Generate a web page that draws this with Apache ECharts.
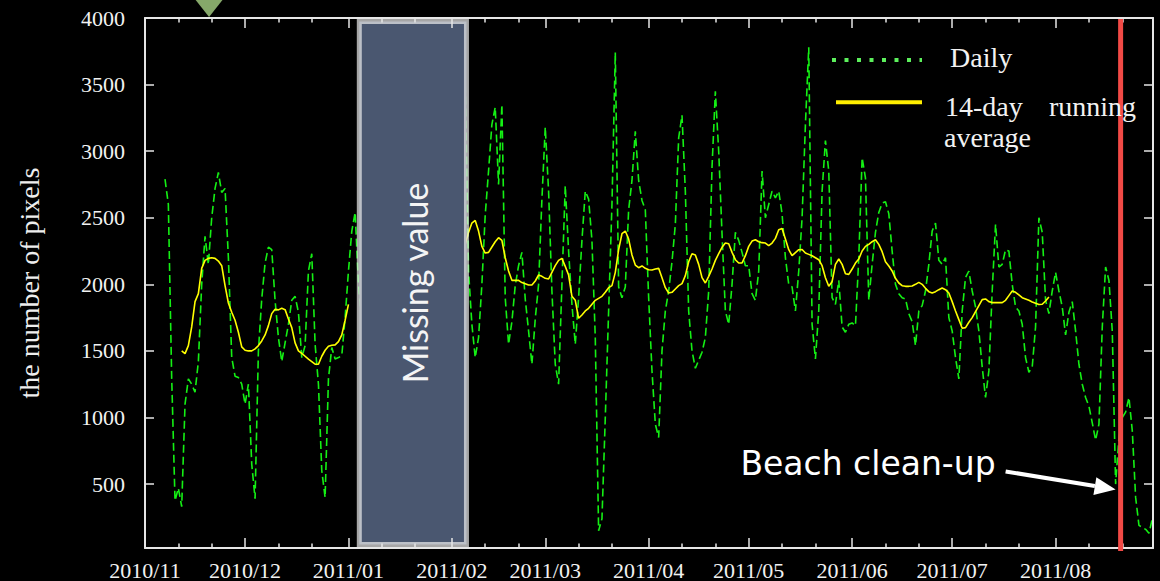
<!DOCTYPE html>
<html>
<head>
<meta charset="utf-8">
<style>
  html, body { margin: 0; padding: 0; background: #000; }
  #chart { width: 1160px; height: 581px; }
</style>
<script src="https://cdn.jsdelivr.net/npm/echarts@6/dist/echarts.min.js"></script>
</head>
<body>
<div id="chart"></div>
<script>
// ---- data -------------------------------------------------------------
// Daily pixel counts, first stretch starting 2010-11-07
const dailyStart1 = [2010, 11, 7];
const daily1 = [
  2790, 2600, 1300, 375, 470, 330, 1100, 1290, 1250, 1190,
  1420, 2000, 2360, 2150, 2500, 2720, 2840, 2690, 2720, 2200,
  1450, 1310, 1300, 1250, 1100, 1250, 650, 390, 1500, 1890,
  2160, 2280, 2260, 1880, 1600, 1420, 1560, 1700, 1880, 1910,
  1790, 1450, 1540, 2100, 2230, 1550, 1250, 600, 400, 1290,
  1525, 1440, 1450, 1465, 1750, 2100, 2400, 2540, 2000, 1700
];
// Daily pixel counts, second stretch starting 2011-02-05
const dailyStart2 = [2011, 2, 5];
const daily2 = [
  3500, 2100, 1700, 1450, 1600, 2000, 2520, 2850, 3200, 3330,
  2750, 3350, 1900, 1550, 1720, 1990, 2140, 2240, 1890, 1650,
  1400, 1740, 2000, 2640, 3180, 2700, 1950, 1400, 1250, 2000,
  2740, 2250, 1850, 1550, 1900, 2330, 2700, 2640, 2330, 1600,
  150, 240, 1000, 1800, 2600, 3740, 1980, 1900, 1980, 2560,
  2780, 3150, 2780, 2630, 2560, 1900, 1350, 950, 850, 1500,
  1800, 1950, 2170, 2450, 3100, 3270, 2700, 1800, 1500, 1370,
  1430, 1490, 1600, 1950, 2880, 3450, 3000, 2380, 1800, 1700,
  2000, 2390, 2330, 2240, 2140, 2140, 1930, 1880, 2100, 2850,
  2500, 2600, 2700, 2650, 2700, 2530, 2200, 2000, 1980, 1800,
  2100, 2500, 3200, 3780, 1700, 1440, 1800, 2700, 3080, 2850,
  1900, 1850, 2030, 1680, 1640, 1700, 1710, 1690, 2200, 2950,
  2800, 1880, 2150, 2390, 2540, 2610, 2620, 2530, 2250, 2000,
  1930, 1900, 1890, 1780, 1720, 1540, 1800, 1840, 1950, 2150,
  2400, 2460, 2180, 2150, 2200, 1750, 1650, 1450, 1290, 1800,
  2050, 2100, 1950, 1830, 1650, 1380, 1150, 1350, 1950, 2450,
  2130, 2150, 2260, 2250, 2000, 1830, 1800, 1700, 1450, 1340,
  1380, 1680, 2500, 2390, 1880, 1780, 1950, 2090, 1950, 1830,
  1620, 1790, 1870, 1650, 1400, 1250, 1150, 1085, 960, 830,
  950, 1680, 2130, 2030, 1650, 500, 850, 1000, 1040, 1150,
  900, 400, 190, 175, 160, 130, 240
];
// 14-day running average, first stretch starting 2010-11-12
const avgStart1 = [2010, 11, 12];
const avg1 = [
  1500, 1480, 1540, 1680, 1870, 1930, 2120, 2180, 2195, 2200,
  2195, 2175, 2140, 1990, 1860, 1790, 1730, 1640, 1530, 1505,
  1500, 1500, 1515, 1540, 1575, 1620, 1690, 1780, 1812, 1808,
  1820, 1810, 1740, 1675, 1560, 1500, 1482, 1460, 1438, 1420,
  1400, 1400, 1460, 1505, 1535, 1543, 1545, 1570, 1620, 1730, 1850
];
// 14-day running average, second stretch starting 2011-02-05
const avgStart2 = [2011, 2, 5];
const avg2 = [
  2300, 2390, 2460, 2480, 2400, 2285, 2235, 2240, 2280, 2320,
  2350, 2330, 2200, 2100, 2030, 2030, 2030, 2013, 2005, 1995,
  1995, 2025, 2070, 2060, 2045, 2040, 2090, 2140, 2180, 2195,
  2135, 2070, 1910, 1880, 1745, 1770, 1800, 1820, 1850, 1880,
  1895, 1910, 1940, 1975, 1990, 2090, 2260, 2380, 2400, 2340,
  2220, 2145, 2125, 2138, 2120, 2110, 2108, 2115, 2120, 2050,
  1975, 1935, 1940, 1965, 1990, 2005, 2065, 2170, 2230, 2220,
  2150, 2050, 2010, 2060, 2115, 2180, 2230, 2278, 2310, 2305,
  2240, 2185, 2160, 2160, 2215, 2285, 2325, 2335, 2320, 2313,
  2310, 2290, 2310, 2345, 2410, 2420, 2340, 2260, 2215, 2238,
  2260, 2262, 2235, 2225, 2215, 2200, 2185, 2140, 2050, 1985,
  2020, 2150, 2190, 2150, 2080, 2075, 2115, 2160, 2190, 2250,
  2285, 2300, 2320, 2335, 2300, 2245, 2170, 2138, 2100, 2045,
  2010, 1990, 1985, 1985, 1988, 2000, 2015, 2000, 1970, 1945,
  1935, 1945, 1960, 1972, 1960, 1935, 1870, 1800, 1735, 1670,
  1675, 1715, 1750, 1795, 1840, 1885, 1890, 1870, 1863, 1863,
  1863, 1863, 1880, 1915, 1950, 1940, 1920, 1900, 1890, 1880,
  1868, 1858, 1848, 1850, 1875, 1905
];

// Axis ticks: month starts carry labels, the 11th and 21st get short ticks
const tickMonths = [
  [2010, 11], [2010, 12], [2011, 1], [2011, 2], [2011, 3],
  [2011, 4], [2011, 5], [2011, 6], [2011, 7], [2011, 8]
];
const minorTickDays = [11, 21];
const yTickValues = [500, 1000, 1500, 2000, 2500, 3000, 3500, 4000];

// Annotations
const missingFrom = [2011, 1, 4, 6];   // start of the data gap
const missingTo = [2011, 2, 5, 9];     // end of the data gap
const cleanupDate = [2011, 8, 20, 12]; // beach clean-up
const cleanupPoint = [[2011, 8, 19, 0], 460];
const eventMarkDate = [2010, 11, 20, 5];

// ---- helpers ----------------------------------------------------------
const ts = (a) => new Date(a[0], a[1] - 1, a[2], a[3] || 0).getTime();
const seq = (start, values) =>
  values.map((v, i) => [new Date(start[0], start[1] - 1, start[2] + i).getTime(), v]);

const xMin = ts([2010, 11, 1]);
const xMax = ts([2011, 8, 30, 5]);
const yMin = 20, yMax = 4000;

const majorTicks = tickMonths.map(m => ts([m[0], m[1], 1]));
const minorTicks = [];
tickMonths.forEach(m => minorTickDays.forEach(d => minorTicks.push(ts([m[0], m[1], d]))));

const gapMark = [ts([2011, 1, 20]), null];
const dailyData = seq(dailyStart1, daily1).concat([gapMark], seq(dailyStart2, daily2));
const avgData = seq(avgStart1, avg1).concat([gapMark], seq(avgStart2, avg2));

const AXIS_COLOR = '#e6e6e6';
const SERIF = 'Liberation Serif';

// x axis holds timestamps on a linear scale; labels show year/month
function xAxisDef(position, ticks, len, withLine, withLabels) {
  return {
    type: 'value', position: position, min: xMin, max: xMax, z: 50,
    axisLine: { show: withLine, onZero: false, lineStyle: { color: AXIS_COLOR, width: 2 } },
    axisTick: { show: true, inside: true, length: len, customValues: ticks,
                lineStyle: { color: AXIS_COLOR, width: 1.5 } },
    axisLabel: withLabels ? {
      show: true, customValues: ticks, color: '#f2f2f2', fontFamily: SERIF,
      fontSize: 22, margin: 11, showMinLabel: true, showMaxLabel: true,
      formatter: (v) => {
        const d = new Date(v);
        return d.getFullYear() + '/' + String(d.getMonth() + 1).padStart(2, '0');
      }
    } : { show: false },
    splitLine: { show: false }
  };
}

function yAxisDef(position, withLabels) {
  return {
    type: 'value', position: position, min: yMin, max: yMax, z: 50,
    name: withLabels ? 'the number of pixels' : '',
    nameLocation: 'middle', nameRotate: 90, nameGap: 102,
    nameTextStyle: { color: '#eeeeee', fontFamily: SERIF, fontSize: 28 },
    axisLine: { show: true, onZero: false, lineStyle: { color: AXIS_COLOR, width: 2 } },
    axisTick: { show: true, inside: true, length: 9, customValues: yTickValues,
                lineStyle: { color: AXIS_COLOR, width: 1.5 } },
    axisLabel: withLabels ? {
      show: true, customValues: yTickValues, color: '#f2f2f2',
      fontFamily: SERIF, fontSize: 22, margin: 20,
      formatter: (v) => String(v)
    } : { show: false },
    splitLine: { show: false }
  };
}

const chart = echarts.init(document.getElementById('chart'), null, { renderer: 'svg' });

chart.setOption({
  backgroundColor: '#000',
  animation: false,
  grid: { left: 145, right: 7, top: 18, bottom: 33 },
  xAxis: [
    xAxisDef('bottom', majorTicks, 10, true, true),
    xAxisDef('bottom', minorTicks, 4.5, false, false),
    xAxisDef('top', majorTicks, 10, true, false),
    xAxisDef('top', minorTicks, 4.5, false, false)
  ],
  yAxis: [yAxisDef('left', true), yAxisDef('right', false)],
  series: [
    {
      name: 'Daily', type: 'line', xAxisIndex: 0, yAxisIndex: 0,
      data: dailyData, showSymbol: false, connectNulls: false, z: 2,
      lineStyle: { color: '#14f014', width: 1.6, type: [8, 4] }
    },
    {
      name: '14-day running average', type: 'line', xAxisIndex: 0, yAxisIndex: 0,
      data: avgData, showSymbol: false, connectNulls: false, z: 3,
      lineStyle: { color: '#ffff00', width: 1.6 }
    }
  ]
});

// ---- annotations placed through the axes ------------------------------
const px = (t, v) => chart.convertToPixel({ xAxisIndex: 0, yAxisIndex: 0 }, [t, v]);
const yTop = px(xMin, yMax)[1];
const yBot = px(xMin, yMin)[1];
const xa = px(ts(missingFrom), yMin)[0];
const xb = px(ts(missingTo), yMin)[0];
const xClean = px(ts(cleanupDate), yMin)[0];
const tip = px(ts(cleanupPoint[0]), cleanupPoint[1]);
const xMark = px(ts(eventMarkDate), yMin)[0];

// arrow towards the dip after the clean-up
const tail = [tip[0] - 110, tip[1] - 18];
const len = Math.hypot(tip[0] - tail[0], tip[1] - tail[1]);
const ux = (tip[0] - tail[0]) / len, uy = (tip[1] - tail[1]) / len;
const back = [tip[0] - 21 * ux, tip[1] - 21 * uy];
const head = [tip, [back[0] - 9 * uy, back[1] + 9 * ux], [back[0] + 9 * uy, back[1] - 9 * ux]];

const graphics = [
  { type: 'rect', z: 10,
    shape: { x: xa, y: yTop + 3.5, width: xb - xa, height: yBot - yTop - 7 },
    style: { fill: '#4a5770', stroke: 'rgba(236,236,236,0.7)', lineWidth: 5 } },
  { type: 'text', z: 11, x: (xa + xb) / 2 + 2, y: (yTop + yBot) / 2, rotation: Math.PI / 2,
    style: { text: 'Missing value', fill: '#f4f4f4', fontFamily: 'Lato', fontSize: 34,
             align: 'center', verticalAlign: 'middle' } },
  { type: 'line', z: 60,
    shape: { x1: xClean, y1: yTop + 1, x2: xClean, y2: yBot + 3 },
    style: { stroke: '#f24a46', lineWidth: 5 } },
  { type: 'line', z: 60,
    shape: { x1: tail[0], y1: tail[1], x2: back[0], y2: back[1] },
    style: { stroke: '#ffffff', lineWidth: 4 } },
  { type: 'polygon', z: 60, shape: { points: head }, style: { fill: '#ffffff' } },
  { type: 'text', z: 60, x: tail[0] - 10, y: tail[1] - 8,
    style: { text: 'Beach clean-up', fill: '#ffffff', fontFamily: 'DejaVu Sans', fontSize: 33,
             align: 'right', verticalAlign: 'middle' } },
  { type: 'polygon', z: 60,
    shape: { points: [[xMark - 15, -2], [xMark + 15, -2], [xMark, yTop - 1]] },
    style: { fill: '#86a86a' } },
  // legend
  { type: 'line', z: 60, shape: { x1: 832, y1: 60, x2: 922, y2: 60 },
    style: { stroke: '#5cf05c', lineWidth: 4, lineDash: [4, 8.5] } },
  { type: 'text', z: 60, x: 950, y: 57.5,
    style: { text: 'Daily', fill: '#f2f2f2', fontFamily: SERIF, fontSize: 28, verticalAlign: 'middle' } },
  { type: 'line', z: 60, shape: { x1: 836, y1: 102.3, x2: 922, y2: 102.3 },
    style: { stroke: '#ffee00', lineWidth: 4 } },
  { type: 'text', z: 60, x: 945, y: 106,
    style: { text: '14-day', fill: '#f2f2f2', fontFamily: SERIF, fontSize: 28, verticalAlign: 'middle' } },
  { type: 'text', z: 60, x: 1136, y: 106,
    style: { text: 'running', fill: '#f2f2f2', fontFamily: SERIF, fontSize: 28,
             align: 'right', verticalAlign: 'middle' } },
  { type: 'text', z: 60, x: 944, y: 137,
    style: { text: 'average', fill: '#f2f2f2', fontFamily: SERIF, fontSize: 28, verticalAlign: 'middle' } }
];

chart.setOption({ graphic: graphics });
</script>
</body>
</html>
